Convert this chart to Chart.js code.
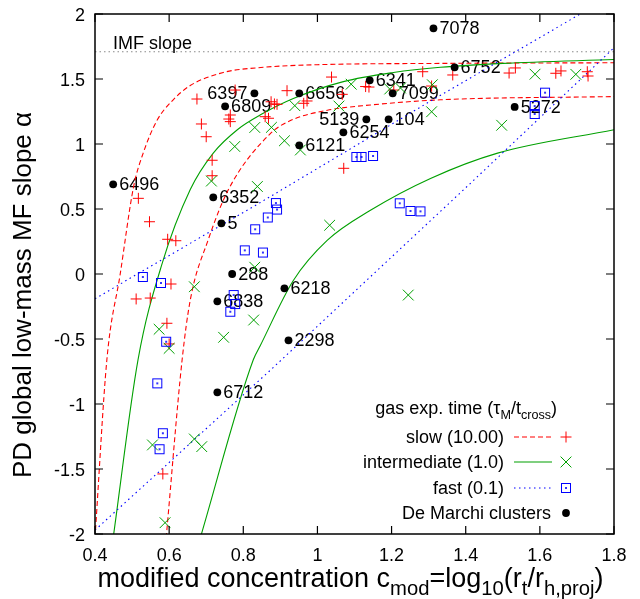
<!DOCTYPE html>
<html><head><meta charset="utf-8">
<script src="https://cdn.jsdelivr.net/npm/chart.js@4/dist/chart.umd.min.js"></script>
<style>html,body{margin:0;padding:0;background:#fff;}canvas{display:block;}</style>
</head><body>
<canvas id="c" width="640" height="599"></canvas>
<script>
const FONT = "'Liberation Sans', Arial, Helvetica, sans-serif";

// ---- tick labels ----
const xTickLabels = ['0.4','0.6','0.8','1','1.2','1.4','1.6','1.8'];
const yTickLabels = ['-2','-1.5','-1','-0.5','0','0.5','1','1.5','2'];
const imfSlope = 1.71;

// ---- model curves ----
const slowModelHigh = [[0.400,-2.03],[0.432,-0.66],[0.468,0.00],[0.504,0.67],[0.530,0.93],[0.567,1.18],[0.611,1.34],[0.657,1.45],[0.746,1.55],[0.854,1.59],[1.000,1.61],[1.330,1.62],[1.800,1.625]];
const slowModelLow = [[0.592,-2.03],[0.635,-0.66],[0.657,-0.20],[0.705,0.26],[0.760,0.65],[0.873,1.08],[0.927,1.18],[1.027,1.26],[1.143,1.30],[1.332,1.34],[1.800,1.365]];
const intermModelHigh = [[0.449,-2.03],[0.516,-0.66],[0.581,0.08],[0.657,0.65],[0.719,0.93],[0.784,1.11],[0.850,1.23],[0.935,1.35],[1.070,1.48],[1.205,1.55],[1.332,1.59],[1.500,1.62],[1.800,1.65]];
const intermModelLow = [[0.684,-2.03],[0.827,-0.66],[0.846,-0.55],[0.935,-0.05],[1.027,0.26],[1.143,0.49],[1.305,0.735],[1.486,0.93],[1.800,1.11]];
const fastModelHigh = [[0.400,-0.19],[0.846,0.55],[1.305,1.33],[1.697,1.98],[1.720,2.02]];
const fastModelLow = [[0.400,-1.97],[0.873,-0.74],[1.395,0.65],[1.800,1.74]];

// ---- simulated clusters ----
const slowPoints = [[0.675,1.346],[0.687,1.154],[0.700,1.056],[0.716,0.875],[0.716,0.756],[0.765,1.223],[0.761,1.192],[0.765,1.172],[0.778,1.415],[0.859,1.210],[0.868,1.198],[0.875,1.325],[0.884,1.308],[0.891,1.305],[0.918,1.410],[0.963,1.313],[0.972,1.331],[1.038,1.515],[1.067,1.382],[1.130,1.442],[1.139,1.438],[1.206,1.415],[1.284,1.556],[1.308,1.446],[1.365,1.531],[1.517,1.546],[1.534,1.585],[1.643,1.544],[1.657,1.562],[1.728,1.556],[1.730,1.523],[1.071,0.813],[0.517,0.582],[0.547,0.402],[0.596,0.267],[0.618,0.256],[0.605,-0.077],[0.511,-0.192],[0.549,-0.185],[0.594,-0.379],[0.600,-0.538],[0.583,-1.538]];
const intermPoints = [[0.939,1.295],[0.831,1.127],[0.876,1.128],[0.911,1.025],[0.777,0.981],[0.714,0.715],[0.838,0.673],[0.954,0.954],[1.091,1.460],[1.058,1.292],[1.195,1.423],[1.224,1.431],[1.310,1.456],[1.308,1.248],[1.587,1.537],[1.697,1.536],[1.497,1.144],[1.033,0.375],[1.245,-0.162],[0.668,-0.098],[0.831,0.052],[0.828,-0.354],[0.747,-0.487],[0.573,-0.425],[0.600,-0.572],[0.555,-1.315],[0.668,-1.269],[0.688,-1.328],[0.589,-1.913]];
const fastPoints = [[1.105,0.900],[1.119,0.900],[1.150,0.908],[0.888,0.546],[0.891,0.496],[0.866,0.435],[0.832,0.344],[0.804,0.182],[0.853,0.165],[1.222,0.544],[1.251,0.485],[1.278,0.482],[0.529,-0.023],[0.578,-0.069],[0.774,-0.162],[0.778,-0.231],[0.765,-0.290],[0.592,-0.521],[0.568,-0.841],[0.583,-1.225],[0.574,-1.348],[1.614,1.395],[1.586,1.292],[1.586,1.231]];

// ---- De Marchi clusters ----
const clusterNames = ['7078','6752','5272','6341','7099','6656','5139','104','6254','6121','6397','6809','6496','6352','5','288','6838','6218','2298','6712'];
const clusterC = [1.313,1.370,1.532,1.141,1.203,0.951,1.132,1.192,1.070,0.951,0.830,0.751,0.449,0.719,0.741,0.770,0.730,0.911,0.922,0.730];
const clusterAlpha = [1.89,1.59,1.285,1.49,1.39,1.39,1.19,1.19,1.09,0.99,1.39,1.29,0.69,0.59,0.39,0.0,-0.21,-0.11,-0.51,-0.91];
const leftLabelled = ['6397','5139'];

const pts = a => a.map(p => ({x: p[0], y: p[1]}));

const RED = '#ff0000', GREEN = '#00a000', BLUE = '#0000ff', GREY = '#8a8a8a';
const DASH_SLOW = [5, 3], DASH_FAST = [1.5, 3.5], DASH_IMF = [1.5, 3];

function makeBoxDot() {
  const c = document.createElement('canvas');
  c.width = 12; c.height = 12;
  const g = c.getContext('2d');
  g.strokeStyle = BLUE; g.lineWidth = 1;
  g.strokeRect(1.5, 1.5, 9, 9);
  g.fillStyle = BLUE; g.globalAlpha = 0.8;
  g.fillRect(5, 5, 2, 2);
  return c;
}
const boxDot = makeBoxDot();

function lineDs(data, color, dash, smooth) {
  return {
    type: 'scatter', data: pts(data), showLine: true, borderColor: color, borderWidth: 1.1,
    borderDash: dash, pointRadius: 0, pointHoverRadius: 0, fill: false,
    cubicInterpolationMode: smooth ? 'monotone' : 'default', tension: 0, clip: 0
  };
}

const datasets = [
  { data: clusterC.map((c, i) => ({x: c, y: clusterAlpha[i]})), pointStyle: 'circle', pointRadius: 3.9,
    pointBackgroundColor: '#000', pointBorderWidth: 0, pointBorderColor: '#000', showLine: false, clip: false },
  { data: pts(fastPoints), pointStyle: boxDot, pointRadius: 6, showLine: false, clip: false },
  { data: pts(intermPoints), pointStyle: 'crossRot', pointRadius: 7.6, pointBorderColor: GREEN, pointBorderWidth: 1, showLine: false, clip: false },
  { data: pts(slowPoints), pointStyle: 'cross', pointRadius: 5.5, pointBorderColor: RED, pointBorderWidth: 1, showLine: false, clip: false },
  lineDs(fastModelHigh, BLUE, DASH_FAST, false),
  lineDs(fastModelLow, BLUE, DASH_FAST, false),
  lineDs(intermModelHigh, GREEN, [], true),
  lineDs(intermModelLow, GREEN, [], true),
  lineDs(slowModelHigh, RED, DASH_SLOW, true),
  lineDs(slowModelLow, RED, DASH_SLOW, true),
  lineDs([[0.4, imfSlope], [1.8, imfSlope]], GREY, DASH_IMF, false)
];

function drawRich(ctx, segs, x, y, size, align, subScale) {
  const sc = subScale || 0.7;
  let total = 0;
  const widths = segs.map(s => {
    ctx.font = (s.sub ? size * sc : size) + 'px ' + FONT;
    const w = ctx.measureText(s.t).width; total += w; return w;
  });
  let cx = align === 'center' ? x - total / 2 : (align === 'right' ? x - total : x);
  ctx.textAlign = 'left'; ctx.textBaseline = 'alphabetic';
  segs.forEach((s, i) => {
    ctx.font = (s.sub ? size * sc : size) + 'px ' + FONT;
    ctx.fillText(s.t, cx, y + (s.sub ? size * 0.28 : 0));
    cx += widths[i];
  });
}

const decor = {
  id: 'decor',
  beforeDatasetsDraw(chart) {
    const ctx = chart.ctx, xs = chart.scales.x, ys = chart.scales.y;
    ctx.save();
    ctx.fillStyle = '#000';
    ctx.font = '18px ' + FONT;
    ctx.textBaseline = 'middle';
    clusterNames.forEach((n, i) => {
      const px = xs.getPixelForValue(clusterC[i]), py = ys.getPixelForValue(clusterAlpha[i]);
      if (leftLabelled.includes(n)) { ctx.textAlign = 'right'; ctx.fillText(n, px - 7, py + 1); }
      else { ctx.textAlign = 'left'; ctx.fillText(n, px + 6, py + 1); }
    });
    ctx.textAlign = 'left';
    ctx.fillText('IMF slope', xs.getPixelForValue(0.4) + 18, ys.getPixelForValue(imfSlope) - 8);
    ctx.restore();
  },
  afterDraw(chart) {
    const ctx = chart.ctx, a = chart.chartArea, xs = chart.scales.x, ys = chart.scales.y;
    ctx.save();
    ctx.strokeStyle = '#000'; ctx.lineWidth = 1.5; ctx.setLineDash([]);
    ctx.strokeRect(a.left, a.top, a.right - a.left, a.bottom - a.top);
    ctx.lineWidth = 1.2;
    ctx.beginPath();
    xs.ticks.forEach(t => {
      const p = xs.getPixelForValue(t.value);
      ctx.moveTo(p, a.bottom); ctx.lineTo(p, a.bottom - 8);
      ctx.moveTo(p, a.top); ctx.lineTo(p, a.top + 8);
    });
    ys.ticks.forEach(t => {
      const p = ys.getPixelForValue(t.value);
      ctx.moveTo(a.left, p); ctx.lineTo(a.left + 8, p);
      ctx.moveTo(a.right, p); ctx.lineTo(a.right - 8, p);
    });
    ctx.stroke();

    // axis titles
    ctx.fillStyle = '#000';
    drawRich(ctx, [{t:'modified concentration c'},{t:'mod',sub:true},{t:'=log'},{t:'10',sub:true},{t:'(r'},{t:'t',sub:true},{t:'/r'},{t:'h,proj',sub:true},{t:')'}],
      (a.left + a.right) / 2 - 4, 587, 27, 'center', 0.75);
    ctx.save();
    ctx.translate(31, (a.top + a.bottom) / 2 + 21);
    ctx.rotate(-Math.PI / 2);
    drawRich(ctx, [{t:'PD global low-mass MF slope α'}], 0, 0, 26, 'center');
    ctx.restore();

    // legend
    const LX = 504, L0 = 514, L1 = 552, MX = 566;
    ctx.fillStyle = '#000';
    drawRich(ctx, [{t:'gas exp. time (τ'},{t:'M',sub:true},{t:'/t'},{t:'cross',sub:true},{t:')'}], 557, 414, 18, 'right');
    ctx.font = '18px ' + FONT; ctx.textAlign = 'right'; ctx.textBaseline = 'middle';
    const rows = [
      {label: 'slow (10.00)', y: 437, color: RED, dash: DASH_SLOW, mark: 'plus'},
      {label: 'intermediate (1.0)', y: 462, color: GREEN, dash: [], mark: 'x'},
      {label: 'fast (0.1)', y: 488, color: BLUE, dash: DASH_FAST, mark: 'box'}
    ];
    rows.forEach(r => {
      ctx.fillStyle = '#000';
      ctx.fillText(r.label, LX, r.y + 1);
      ctx.strokeStyle = r.color; ctx.lineWidth = 1.1; ctx.setLineDash(r.dash);
      ctx.beginPath(); ctx.moveTo(L0, r.y); ctx.lineTo(L1, r.y); ctx.stroke();
      ctx.setLineDash([]); ctx.lineWidth = 1;
      ctx.beginPath();
      if (r.mark === 'plus') { ctx.moveTo(MX - 5.5, r.y); ctx.lineTo(MX + 5.5, r.y); ctx.moveTo(MX, r.y - 5.5); ctx.lineTo(MX, r.y + 5.5); ctx.stroke(); }
      else if (r.mark === 'x') { ctx.moveTo(MX - 5.4, r.y - 5.4); ctx.lineTo(MX + 5.4, r.y + 5.4); ctx.moveTo(MX + 5.4, r.y - 5.4); ctx.lineTo(MX - 5.4, r.y + 5.4); ctx.stroke(); }
      else { ctx.drawImage(boxDot, MX - 6, r.y - 6); }
    });
    ctx.fillStyle = '#000';
    ctx.fillText('De Marchi clusters', 551, 514);
    ctx.beginPath(); ctx.arc(MX, 513, 3.9, 0, Math.PI * 2); ctx.fill();
    ctx.restore();
  }
};

const findLabel = (arr, v) => { const l = arr.find(s => Math.abs(parseFloat(s) - v) < 1e-6); return l === undefined ? '' : l; };

new Chart(document.getElementById('c'), {
  type: 'scatter',
  data: { datasets },
  options: {
    responsive: false, animation: false, devicePixelRatio: 1, events: [],
    layout: { padding: { left: 0, right: 26, top: 14, bottom: 0 } },
    plugins: { legend: { display: false }, tooltip: { enabled: false }, title: { display: false } },
    scales: {
      x: {
        type: 'linear', min: 0.4, max: 1.8,
        ticks: { stepSize: 0.2, autoSkip: false, maxRotation: 0, color: '#000', font: { family: FONT, size: 18 }, padding: 11,
                 callback: v => findLabel(xTickLabels, v) },
        grid: { display: false, drawTicks: false }, border: { display: false },
        afterFit: s => { s.height = 65; s.paddingLeft = 0; s.paddingRight = 0; }
      },
      y: {
        type: 'linear', min: -2, max: 2,
        ticks: { stepSize: 0.5, autoSkip: false, color: '#000', font: { family: FONT, size: 18 }, padding: 10, labelOffset: 2,
                 callback: v => findLabel(yTickLabels, v) },
        grid: { display: false, drawTicks: false }, border: { display: false },
        afterFit: s => { s.width = 95; s.paddingTop = 0; s.paddingBottom = 0; }
      }
    }
  },
  plugins: [decor]
});
</script>
</body></html>
